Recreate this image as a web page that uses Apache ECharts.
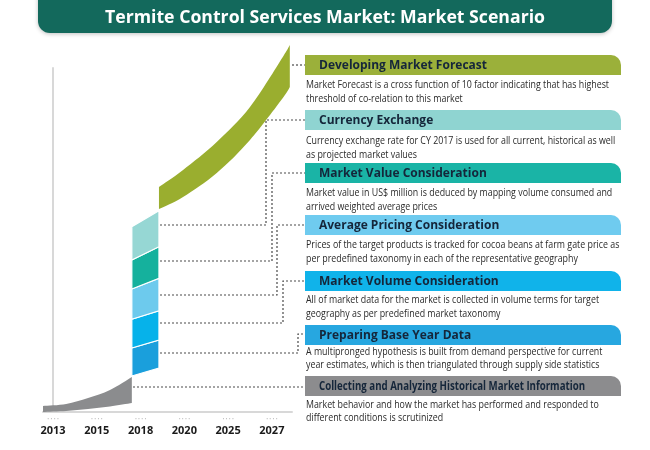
<!DOCTYPE html>
<html><head><meta charset="utf-8">
<script src="https://cdn.jsdelivr.net/npm/echarts@6/dist/echarts.min.js"></script>
<style>html,body{margin:0;padding:0;background:#fff}#c{width:650px;height:450px}</style>
</head><body><div id="c"></div>
<script>
// ---------- data ----------
const years = ['2013', '2015', '2018', '2020', '2025', '2027'];
const yearPos = [0, 1, 2, 3, 4, 5];
// historical band (gray)
const histX = [-0.23, 0.3, 0.8, 1.3, 1.8];
const histLow = [0, 1, 3, 5.5, 9];
const histHigh = [6, 8, 14, 22, 35];
// base-year stacked blocks (left / right edge boundaries, bottom to top)
const baseX = [1.8, 2.42];
const baseLeft = [36, 64, 92.7, 123, 152, 185.3];
const baseRight = [44, 72, 101.3, 133.7, 165.3, 201.3];
// forecast band (green)
const fcX = [2.42, 2.97, 3.74, 4.5, 5.25, 5.41];
const fcLow = [203, 215, 239, 272, 314, 325];
const fcHigh = [225, 242, 270, 305, 355, 367];

const stepTitles = [
  'Developing Market Forecast',
  'Currency Exchange',
  'Market Value Consideration',
  'Average Pricing Consideration',
  'Market Volume Consideration',
  'Preparing Base Year Data',
  'Collecting and Analyzing Historical Market Information'
];
const stepText = [
  ['Market Forecast is a cross function of 10 factor indicating that has highest', 'threshold of co-relation to this market'],
  ['Currency exchange rate for CY 2017 is used for all current, historical as well', 'as projected market values'],
  ['Market value in US$ million is deduced by mapping volume consumed and', 'arrived weighted average prices'],
  ['Prices of the target products is tracked for cocoa beans at farm gate price as', 'per predefined taxonomy in each of the representative geography'],
  ['All of market data for the market is collected in volume terms for target', 'geography as per predefined market taxonomy'],
  ['A multipronged hypothesis is built from demand perspective for current', 'year estimates, which is then triangulated through supply side statistics'],
  ['Market behavior and how the market has performed and responded to', 'different conditions is scrutinized']
];
const titleText = 'Termite Control Services Market: Market Scenario';

// ---------- styles / layout ----------
const blockColors = ['#1a9fdc', '#06b2ea', '#6dcaed', '#15b19d', '#96d7d4'];
const headerColors = ['#9bb03a', '#8fd4d1', '#1ab4a6', '#6fcbef', '#10b3ea', '#27a7e0', '#8c8c8e'];
const headerTop = [55, 110, 163, 215, 271, 325, 376];
const bodyY = [[85, 98.5], [141, 154.5], [193, 207], [245, 259], [300, 314], [352, 365], [405, 418]];
const connectors = [
  [[292, 65], [305, 65]],
  [[160, 225], [266, 225], [266, 120], [305, 120]],
  [[160, 261], [272, 261], [272, 173], [305, 173]],
  [[160, 295], [277, 295], [277, 225], [305, 225]],
  [[160, 323], [283, 323], [283, 281], [305, 281]],
  [[160, 353], [298, 353], [298, 334], [305, 334]],
  [[133, 387], [305, 387]]
];
const FONT = '"Open Sans", "Noto Sans", sans-serif';

const ctx = document.createElement('canvas').getContext('2d');
function measure(text, weight, size) {
  ctx.font = weight + ' ' + size + 'px ' + FONT;
  return ctx.measureText(text).width;
}
const titleScale = 440 / measure(titleText, 'bold', 18);
const headScale = 168 / measure(stepTitles[0], 'bold', 13);
const condScale = 266 / measure(stepTitles[6], 'bold', 13);
const bodyScale = 303 / measure(stepText[0][0], 'normal', 11);

function curve(pts) {
  let d = '';
  for (let i = 0; i < pts.length - 1; i++) {
    const p0 = pts[i - 1] || pts[i], p1 = pts[i], p2 = pts[i + 1], p3 = pts[i + 2] || pts[i + 1];
    const c1 = [p1[0] + (p2[0] - p0[0]) / 6, p1[1] + (p2[1] - p0[1]) / 6];
    const c2 = [p2[0] - (p3[0] - p1[0]) / 6, p2[1] - (p3[1] - p1[1]) / 6];
    d += ' C' + c1[0] + ' ' + c1[1] + ' ' + c2[0] + ' ' + c2[1] + ' ' + p2[0] + ' ' + p2[1];
  }
  return d;
}
function band(xs, lows, highs, color) {
  return function (params, api) {
    const top = xs.map((x, i) => api.coord([x, highs[i]]));
    const bot = xs.map((x, i) => api.coord([x, lows[i]])).reverse();
    const d = 'M' + top[0][0] + ' ' + top[0][1] + curve(top) + ' L' + bot[0][0] + ' ' + bot[0][1] + curve(bot) + ' Z';
    return { type: 'path', shape: { pathData: d }, style: { fill: color } };
  };
}

const graphic = [];
graphic.push({ type: 'rect', shape: { x: 38, y: -15, width: 574, height: 48, r: 12 },
  style: { fill: '#13695c', shadowBlur: 4, shadowColor: 'rgba(0,0,0,0.25)', shadowOffsetY: 1 } });
graphic.push({ type: 'text', x: 325, y: 18, scaleX: titleScale,
  style: { text: titleText, fontSize: 18, fontWeight: 'bold', fontFamily: FONT, fill: '#ffffff', align: 'center', verticalAlign: 'middle' } });
connectors.forEach(pts => graphic.push({ type: 'polyline', shape: { points: pts },
  style: { stroke: '#4a4a4a', lineWidth: 1.2, lineDash: [2, 2], fill: null } }));
stepTitles.forEach((t, i) => {
  graphic.push({ type: 'rect', shape: { x: 305, y: headerTop[i], width: 316, height: 20, r: [0, 10, 0, 0] },
    style: { fill: headerColors[i] } });
  graphic.push({ type: 'text', x: 319, y: headerTop[i] + 10.5, scaleX: i === 6 ? condScale : headScale,
    style: { text: t, fontSize: 13, fontWeight: 'bold', fontFamily: FONT, fill: '#15263a', align: 'left', verticalAlign: 'middle' } });
  stepText[i].forEach((line, j) => graphic.push({ type: 'text', x: 306, y: bodyY[i][j], scaleX: bodyScale,
    style: { text: line, fontSize: 11, fontFamily: FONT, fill: '#2a2a2a', align: 'left', verticalAlign: 'middle' } }));
});

const chart = echarts.init(document.getElementById('c'), null, { renderer: 'canvas' });
chart.setOption({
  animation: false,
  backgroundColor: '#ffffff',
  grid: { left: 43, right: 358, top: 68, bottom: 38 },
  xAxis: {
    type: 'value', min: -0.23, max: 5.46,
    axisLine: { show: true, lineStyle: { color: '#d8d8d8', width: 2 } },
    axisTick: { show: false }, splitLine: { show: false },
    axisLabel: {
      customValues: yearPos, margin: 4,
      formatter: v => '{d|• • • •}\n{y|' + years[Math.round(v)] + '}',
      rich: {
        d: { fontSize: 5, color: '#bdbdbd', lineHeight: 8, fontFamily: FONT },
        y: { fontSize: 11, fontWeight: 'bold', color: '#1a1a1a', lineHeight: 14, fontFamily: FONT }
      }
    }
  },
  yAxis: {
    type: 'value', min: 0, max: 344,
    axisLine: { show: true, lineStyle: { color: '#d8d8d8', width: 2 } },
    axisTick: { show: false }, axisLabel: { show: false }, splitLine: { show: false }
  },
  series: [
    { type: 'custom', name: 'Historical', clip: false, data: [[histX[0], histLow[0]]],
      renderItem: band(histX, histLow, histHigh, '#8b8c8e') },
    { type: 'custom', name: 'Base Year', clip: false,
      data: blockColors.map((c, i) => [baseX[0], baseLeft[i], baseX[1], baseRight[i + 1]]),
      encode: { x: [0, 2], y: [1, 3] },
      renderItem: function (params, api) {
        const i = params.dataIndex;
        const pts = [api.coord([baseX[0], baseLeft[i]]), api.coord([baseX[1], baseRight[i]]),
                     api.coord([baseX[1], baseRight[i + 1]]), api.coord([baseX[0], baseLeft[i + 1]])];
        return { type: 'polygon', shape: { points: pts }, style: { fill: blockColors[i], stroke: '#ffffff', lineWidth: 1.2 } };
      } },
    { type: 'custom', name: 'Forecast', clip: false, data: [[fcX[0], fcLow[0]]],
      renderItem: band(fcX, fcLow, fcHigh, '#9aae2f') }
  ],
  graphic: graphic
});
</script></body></html>
